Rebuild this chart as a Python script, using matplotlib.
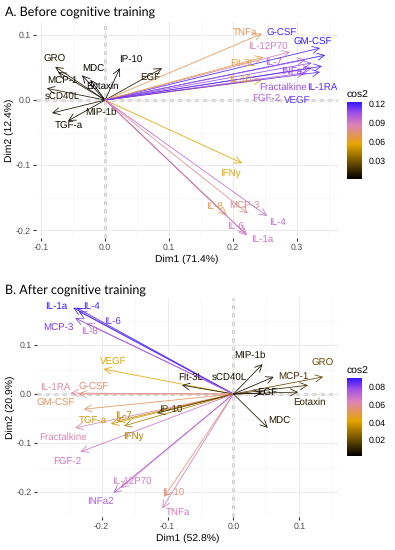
import numpy as np
import matplotlib
matplotlib.use("Agg")
import matplotlib.pyplot as plt
from matplotlib.colors import LinearSegmentedColormap, Normalize

# ---- data: arrow ends (Dim1, Dim2) ----
a_vars = ["GRO", "MCP-1", "MDC", "IP-10", "EGF", "Eotaxin", "sCD40L", "MIP-1b", "TGF-a",
          "TNFa", "G-CSF", "GM-CSF", "IL-12P70", "Flt-3L", "IL-7", "INFa2", "IL-10",
          "Fractalkine", "IL-1RA", "FGF-2", "VEGF",
          "IFNy", "IL-8", "MCP-3", "IL-4", "IL-6", "IL-1a"]
a_dim1 = [-0.078, -0.073, -0.036, 0.023, 0.089, -0.023, -0.091, -0.083, -0.058,
          0.245, 0.336, 0.344, 0.289, 0.247, 0.313, 0.323, 0.245,
          0.323, 0.339, 0.313, 0.336,
          0.214, 0.190, 0.223, 0.253, 0.219, 0.222]
a_dim2 = [0.051, 0.043, 0.038, 0.049, 0.049, 0.031, 0.018, -0.020, -0.032,
          0.102, 0.080, 0.069, 0.074, 0.066, 0.062, 0.057, 0.031,
          0.049, 0.052, 0.042, 0.043,
          -0.097, -0.177, -0.174, -0.178, -0.205, -0.208]

b_vars = ["IL-1a", "IL-4", "IL-6", "MCP-3", "IL-8", "VEGF", "Flt-3L", "IL-1RA", "G-CSF",
          "GM-CSF", "Fractalkine", "TGF-a", "IL-7", "IFNy", "IP-10", "FGF-2", "IL-12P70",
          "INFa2", "IL-10", "TNFa", "MIP-1b", "sCD40L", "MCP-1", "GRO", "EGF", "Eotaxin", "MDC"]
b_dim1 = [-0.243, -0.238, -0.235, -0.240, -0.223, -0.197, -0.078, -0.247, -0.235,
          -0.227, -0.240, -0.186, -0.177, -0.166, -0.116, -0.232, -0.171,
          -0.182, -0.105, -0.108, 0.044, 0.061, 0.113, 0.136, 0.043, 0.098, 0.052]
b_dim2 = [0.176, 0.176, 0.169, 0.155, 0.145, 0.051, 0.018, 0.002, 0.000,
          -0.031, -0.069, -0.061, -0.055, -0.065, -0.039, -0.118, -0.192,
          -0.202, -0.210, -0.233, 0.061, 0.035, 0.018, 0.035, 0.002, 0.004, -0.069]

# label nudges in pixels (dx, dy up) from the arrow end
a_nudge = {"GRO": (-1, 8), "MCP-1": (4, -9), "MDC": (11, 6), "IP-10": (11, 8), "EGF": (-12, -10),
           "Eotaxin": (12, -6), "sCD40L": (15, -9), "MIP-1b": (49, 1), "TGF-a": (1, -5),
           "TNFa": (-17, 1), "G-CSF": (-38, 15), "GM-CSF": (-12, 13), "IL-12P70": (-22, 5),
           "Flt-3L": (-20, -6), "IL-7": (-32, -3), "INFa2": (-17, -9), "IL-10": (-22, 0),
           "Fractalkine": (-29, -19), "IL-1RA": (0, -21), "FGF-2": (-39, -27), "VEGF": (-23, -29),
           "IFNy": (-12, -10), "IL-8": (-12, 8), "MCP-3": (-3, 7), "IL-4": (11, -7),
           "IL-6": (-10, 6), "IL-1a": (15, -4)}
b_nudge = {"IL-1a": (-17, 1), "IL-4": (15, 1), "IL-6": (34, -11), "MCP-3": (-17, -10), "IL-8": (3, -9),
           "VEGF": (10, 7), "Flt-3L": (9, 8), "IL-1RA": (-15, 6), "G-CSF": (15, 7),
           "GM-CSF": (-28, 6), "Fractalkine": (-12, -9), "TGF-a": (-18, 3), "IL-7": (7, 6),
           "IFNy": (9, -10), "IP-10": (14, 3), "FGF-2": (-13, -10), "IL-12P70": (11, 6),
           "INFa2": (-13, -9), "IL-10": (9, 4), "TNFa": (16, -4), "MIP-1b": (-13, 9),
           "sCD40L": (-44, -1), "MCP-1": (-15, 8), "GRO": (-1, 14), "EGF": (5, 0),
           "Eotaxin": (11, -10), "MDC": (12, 7)}

cmap = LinearSegmentedColormap.from_list(
    "cos2", [(0, "#000000"), (0.45, "#E6A600"), (0.7, "#DE84B8"),
             (0.86, "#A050E6"), (1.0, "#3318FF")])

W, H = 395, 550
plt.rcParams["font.family"] = ["Liberation Sans", "DejaVu Sans"]
plt.rcParams["text.hinting"] = "no_hinting"
fig = plt.figure(figsize=(W / 100, H / 100), dpi=100)


def box(l, t, r, b):
    return [l / W, 1 - b / H, (r - l) / W, (b - t) / H]


def panel(rect, cbrect, title, title_y, vars_, d1, d2, nudge, xlim, ylim, xticks, yticks,
          xlab, ylab, cticks):
    ax = fig.add_axes(box(*rect))
    d1 = np.array(d1)
    d2 = np.array(d2)
    cos2 = d1 ** 2 + d2 ** 2
    norm = Normalize(cos2.min(), cos2.max())
    ax.set_xticks(xticks)
    ax.set_yticks(yticks)
    ax.set_xticks(np.arange(-0.35, 0.4, 0.05), minor=True)
    ax.set_yticks(np.arange(-0.35, 0.4, 0.05), minor=True)
    ax.set_xlim(*xlim)
    ax.set_ylim(*ylim)
    ax.grid(which="major", color="#EBEBEB", lw=0.7)
    ax.grid(which="minor", color="#F3F3F3", lw=0.4)
    ax.tick_params(which="minor", length=0)
    ax.tick_params(which="major", length=2.5, color="#333333", labelsize=6.3,
                   labelcolor="#4D4D4D", pad=1.5)
    ax.set_xticklabels([f"{t:.1f}" for t in xticks])
    ax.set_yticklabels([f"{t:.1f}" for t in yticks])
    for s in ax.spines.values():
        s.set_visible(False)
    ax.axhline(0, color="#222222", lw=1.0, ls=(0, (3, 3)), zorder=1.5)
    ax.axvline(0, color="#222222", lw=1.0, ls=(0, (3, 3)), zorder=1.5)
    for name, x, y, c in zip(vars_, d1, d2, cos2):
        col = cmap(norm(c))
        ax.annotate("", xy=(x, y), xytext=(0, 0),
                    arrowprops=dict(arrowstyle="->,head_length=0.5,head_width=0.25",
                                    color=col, lw=0.55, shrinkA=0, shrinkB=0), zorder=2)
        dx, dy = nudge[name]
        ax.annotate(name, xy=(x, y), xytext=(dx, dy), textcoords="offset pixels",
                    ha="center", va="center", fontsize=7, color=col, zorder=3)
    ax.set_xlabel(xlab, fontsize=7.5, labelpad=2)
    ax.set_ylabel(ylab, fontsize=7.5, labelpad=1)
    fig.text(5 / W, 1 - title_y / H, title, fontsize=9, family=["Lato", "DejaVu Sans"],
             va="center", ha="left")

    cax = fig.add_axes(box(*cbrect))
    grad = np.linspace(cos2.min(), cos2.max(), 256).reshape(-1, 1)
    cax.imshow(grad, aspect="auto", origin="lower", cmap=cmap, norm=norm,
               extent=[0, 1, cos2.min(), cos2.max()])
    cax.set_xticks([])
    cax.yaxis.tick_right()
    cax.set_yticks(cticks)
    cax.set_yticklabels([f"{t:.2f}" for t in cticks])
    cax.set_ylim(cos2.min(), cos2.max())
    cax.tick_params(axis="y", length=3, color="white", labelsize=6.3, pad=2)
    for s in cax.spines.values():
        s.set_visible(False)
    cax.set_title("cos2", fontsize=7.5, loc="left", pad=3)
    return ax


panel((36, 22, 338, 238), (347, 102, 362, 179), "A. Before cognitive training", 12,
      a_vars, a_dim1, a_dim2, a_nudge,
      (-0.108, 0.364), (-0.212, 0.12), [-0.1, 0.0, 0.1, 0.2, 0.3], [-0.2, -0.1, 0.0, 0.1],
      "Dim1 (71.4%)", "Dim2 (12.4%)", [0.03, 0.06, 0.09, 0.12])

panel((37, 298, 338, 517), (347, 378, 362, 456), "B. After cognitive training", 290,
      b_vars, b_dim1, b_dim2, b_nudge,
      (-0.298, 0.1585), (-0.251, 0.196), [-0.2, -0.1, 0.0, 0.1], [-0.2, -0.1, 0.0, 0.1],
      "Dim1 (52.8%)", "Dim2 (20.9%)", [0.02, 0.04, 0.06, 0.08])

fig.savefig("out.png", dpi=100)
